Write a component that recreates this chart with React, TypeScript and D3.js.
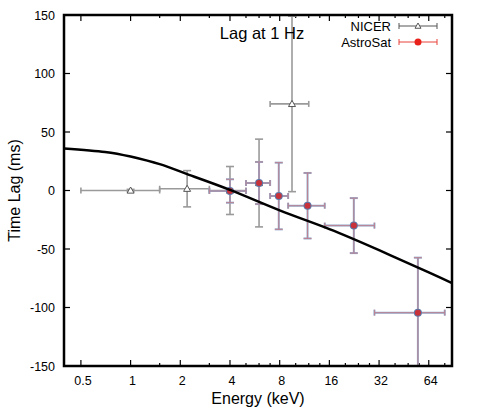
import React from 'react';
import * as d3 from 'd3';

// NICER points (energy keV, lag ms) with errors
const nicerE = [1, 2.2, 4, 6, 9.5];
const nicerElo = [0.5, 1.5, 3, 5, 7];
const nicerEhi = [1.5, 3, 5, 7, 12];
const nicerLag = [0, 1.5, 0, 6.4, 74];
const nicerErr = [1, 15.5, 20.5, 37.5, 75];

// AstroSat points
const astroE = [4, 6, 7.9, 11.8, 22.5, 55];
const astroElo = [3, 5, 7, 9, 15, 30];
const astroEhi = [5, 7, 9, 15, 30, 80];
const astroLag = [-0.4, 6.4, -4.7, -13, -30, -104.4];
const astroErr = [10, 18, 28.5, 28, 23.5, 47];

// model curve
const modelE = [0.395, 0.7, 1, 1.5, 2.2, 4, 8, 16, 32, 64, 88];
const modelLag = [36, 33, 29, 22.5, 14, 0.5, -17, -33, -51, -70, -79];

const xTicks = [0.5, 1, 2, 4, 8, 16, 32, 64];
const xMinor = [1.5, 3, 5, 6, 7, 10, 12, 14, 20, 24, 28, 40, 48, 56, 80];
const yTicks = [-150, -100, -50, 0, 50, 100, 150];

const W = 477;
const H = 409;
const m = { left: 64, right: 25, top: 15, bottom: 43 };

export default function App() {
  const x = d3.scaleLog().base(2).domain([0.395, 88.5]).range([m.left, W - m.right]);
  const y = d3.scaleLinear().domain([-150, 150]).range([H - m.bottom, m.top]);
  const [x0, x1] = x.range();
  const [y0, y1] = y.range();

  const line = d3
    .line<number>()
    .x((_, i) => x(modelE[i]))
    .y((d) => y(d))
    .curve(d3.curveNatural);

  const font = 'Liberation Sans, Arial, sans-serif';
  const cap = 4;
  const hcap = 3;

  const errBars = (
    E: number[], lo: number[], hi: number[], L: number[], err: number[],
    stroke: string, sw: number, opacity = 1
  ) =>
    E.map((e, i) => {
      const cx = x(e);
      const cy = y(L[i]);
      const top = Math.max(y(L[i] + err[i]), y1);
      const bot = Math.min(y(L[i] - err[i]), y0);
      return (
        <g key={i} stroke={stroke} strokeWidth={sw} opacity={opacity} fill="none">
          <line x1={x(lo[i])} x2={x(hi[i])} y1={cy} y2={cy} />
          <line x1={x(lo[i])} x2={x(lo[i])} y1={cy - hcap} y2={cy + hcap} />
          <line x1={x(hi[i])} x2={x(hi[i])} y1={cy - hcap} y2={cy + hcap} />
          <line x1={cx} x2={cx} y1={top} y2={bot} />
          <line x1={cx - cap} x2={cx + cap} y1={top} y2={top} />
          <line x1={cx - cap} x2={cx + cap} y1={bot} y2={bot} />
        </g>
      );
    });

  const tri = (cx: number, cy: number, s = 3.5) =>
    `M${cx},${cy - s}L${cx + s},${cy + s * 0.75}L${cx - s},${cy + s * 0.75}Z`;

  return (
    <svg width={W} height={H} style={{ position: 'absolute', left: 0, top: 0 }}>
      <rect width={W} height={H} fill="white" />

      {/* ticks */}
      <g stroke="black" strokeWidth={1.2}>
        {xTicks.map((t) => (
          <g key={t}>
            <line x1={x(t)} x2={x(t)} y1={y0} y2={y0 - 6} />
            <line x1={x(t)} x2={x(t)} y1={y1} y2={y1 + 6} />
          </g>
        ))}
        {xMinor.map((t) => (
          <g key={t}>
            <line x1={x(t)} x2={x(t)} y1={y0} y2={y0 - 3} />
            <line x1={x(t)} x2={x(t)} y1={y1} y2={y1 + 3} />
          </g>
        ))}
        {yTicks.map((t) => (
          <g key={t}>
            <line x1={x0} x2={x0 + 6} y1={y(t)} y2={y(t)} />
            <line x1={x1} x2={x1 - 6} y1={y(t)} y2={y(t)} />
          </g>
        ))}
      </g>

      <g fontFamily={font} fontSize={12.5} fill="black">
        {xTicks.map((t) => (
          <text key={t} x={x(t) + 2} y={y0 + 19} textAnchor="middle">
            {t}
          </text>
        ))}
        {yTicks.map((t) => (
          <text key={t} x={x0 - 9} y={y(t) + 4.5} textAnchor="end">
            {t}
          </text>
        ))}
      </g>

      <text x={258} y={404} fontFamily={font} fontSize={16} textAnchor="middle">
        Energy (keV)
      </text>
      <text
        transform={`translate(20,${(y0 + y1) / 2}) rotate(-90)`}
        fontFamily={font}
        fontSize={16}
        textAnchor="middle"
      >
        Time Lag (ms)
      </text>

      <clipPath id="plotclip">
        <rect x={x0} y={y1} width={x1 - x0} height={y0 - y1} />
      </clipPath>

      <g clipPath="url(#plotclip)">
        {errBars(nicerE, nicerElo, nicerEhi, nicerLag, nicerErr, '#9a9a9a', 1.6)}
        {nicerE.map((e, i) => (
          <path key={i} d={tri(x(e), y(nicerLag[i]))} fill="white" stroke="#555" strokeWidth={1} />
        ))}

        {errBars(astroE, astroElo, astroEhi, astroLag, astroErr, '#8ea6c9', 2)}
        {errBars(astroE, astroElo, astroEhi, astroLag, astroErr, '#e06a6a', 0.8, 0.7)}
        {astroE.map((e, i) => (
          <g key={i}>
            <circle cx={x(e)} cy={y(astroLag[i])} r={4} fill="#5a78a8" />
            <circle cx={x(e)} cy={y(astroLag[i])} r={3} fill="#c8323a" />
          </g>
        ))}

        <path d={line(modelLag) || ''} fill="none" stroke="black" strokeWidth={2.5} />
      </g>

      <text x={262} y={39} fontFamily={font} fontSize={16.5} textAnchor="middle">
        Lag at 1 Hz
      </text>

      {/* legend */}
      <g fontFamily={font} fontSize={13}>
        <text x={391} y={31} textAnchor="end">NICER</text>
        <text x={391} y={47} textAnchor="end">AstroSat</text>
        <g stroke="#555" strokeWidth={1}>
          <line x1={399} x2={437} y1={26} y2={26} />
          <line x1={399} x2={399} y1={23} y2={29} />
          <line x1={437} x2={437} y1={23} y2={29} />
        </g>
        <path d={tri(418, 26, 3)} fill="white" stroke="#555" />
        <g stroke="#e8413a" strokeWidth={1}>
          <line x1={399} x2={437} y1={42} y2={42} />
          <line x1={399} x2={399} y1={39} y2={45} />
          <line x1={437} x2={437} y1={39} y2={45} />
        </g>
        <circle cx={418} cy={42} r={3.5} fill="#e8211a" />
      </g>

      <rect x={x0} y={y1} width={x1 - x0} height={y0 - y1} fill="none" stroke="black" strokeWidth={2.5} />
    </svg>
  );
}
